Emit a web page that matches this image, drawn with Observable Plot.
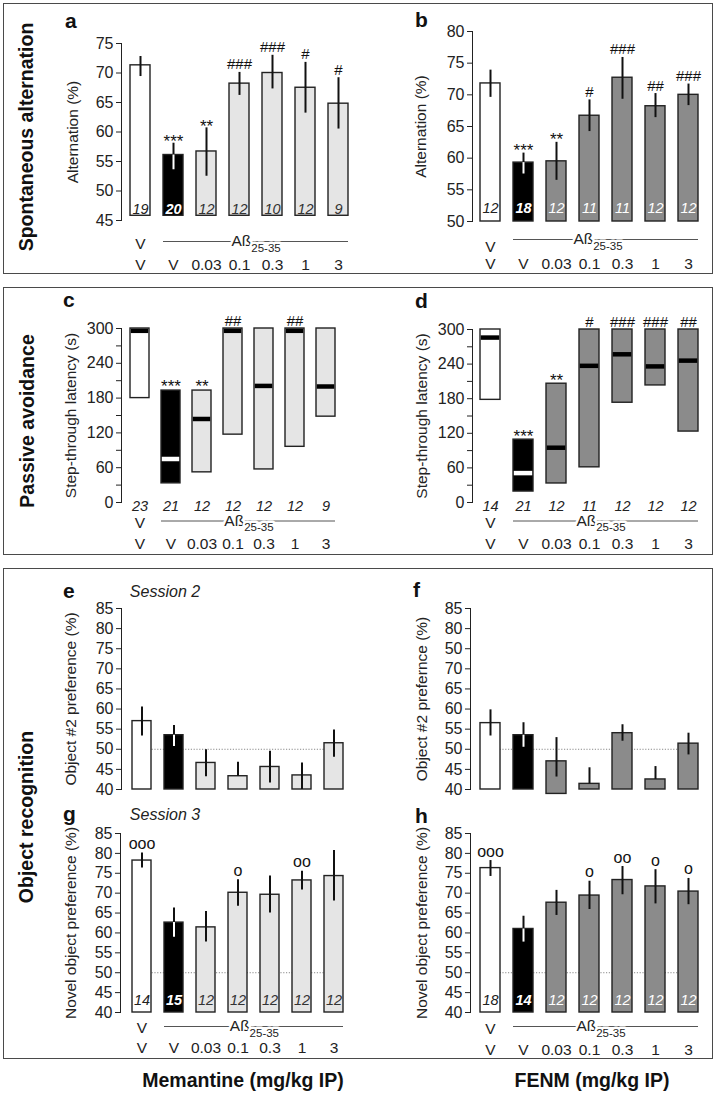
<!DOCTYPE html>
<html>
<head>
<meta charset="utf-8">
<script src="https://cdn.jsdelivr.net/npm/d3@7"></script>
<script src="https://cdn.jsdelivr.net/npm/@observablehq/plot@0.6"></script>
<style>
  html, body { margin: 0; padding: 0; background: #ffffff; }
  #fig { position: relative; width: 716px; height: 1095px; background: #ffffff; overflow: hidden; }
  .frame { position: absolute; border: 1.5px solid #4a4a4a; box-sizing: border-box; }
  .panel { position: absolute; }
  #overlay { position: absolute; left: 0; top: 0; pointer-events: none; }
</style>
</head>
<body>
<div id="fig"></div>
<script>
const FONT = '"Liberation Sans Narrow","Arial Narrow","Liberation Sans",Arial,sans-serif';

// ---------- categories & labels ----------
const groups = ["V+V", "Aß+V", "Aß+0.03", "Aß+0.1", "Aß+0.3", "Aß+1", "Aß+3"];
const kinds = ["vehicle", "abeta", "drug", "drug", "drug", "drug", "drug"];
const row1Labels = ["V", "", "", "", "", "", ""];
const doseLabels = ["V", "V", "0.03", "0.1", "0.3", "1", "3"];
const abetaLabel = "Aß25-35";

// ---------- tick values / labels ----------
const aTicks = [45, 50, 55, 60, 65, 70, 75];
const bTicks = [50, 55, 60, 65, 70, 75, 80];
const cdTicks = [0, 30, 60, 90, 120, 150, 180, 210, 240, 270, 300];
const cdTickLabels = ["0", "", "60", "", "120", "", "180", "", "240", "", "300"];
const orTicks = [40, 45, 50, 55, 60, 65, 70, 75, 80, 85];
const eTickLabels = ["40", "45", "50", "55", "60", "65", "70", "75", "80", "85"];
const fTickLabels = ["40", "45", "50", "55", "60", "65", "70", "50", "80", "85"];

// ---------- a: spontaneous alternation, memantine ----------
const aMean = [71.3, 56.1, 56.7, 68.2, 70.0, 67.5, 64.8];
const aLo   = [69.4, 53.6, 52.5, 66.2, 67.3, 63.2, 60.5];
const aHi   = [72.8, 58.1, 60.7, 70.1, 73.0, 71.8, 69.2];
const aN    = [19, 20, 12, 12, 10, 12, 9];
const aSig  = ["", "***", "**", "###", "###", "#", "#"];

// ---------- b: spontaneous alternation, FENM ----------
const bMean = [71.8, 59.3, 59.5, 66.7, 72.7, 68.2, 70.0];
const bLo   = [69.6, 57.5, 56.5, 64.2, 69.3, 66.4, 68.3];
const bHi   = [73.9, 60.8, 62.5, 69.2, 75.9, 70.2, 71.7];
const bN    = [12, 18, 12, 11, 11, 12, 12];
const bSig  = ["", "***", "**", "#", "###", "##", "###"];

// ---------- c: passive avoidance, memantine (box low/high, median) ----------
const cLow    = [180, 33, 52, 117, 57, 96, 148];
const cHigh   = [300, 193, 193, 300, 300, 300, 300];
const cMedian = [296, 75, 144, 296, 201, 296, 200];
const cN      = [23, 21, 12, 12, 12, 12, 9];
const cSig    = ["", "***", "**", "##", "", "##", ""];

// ---------- d: passive avoidance, FENM ----------
const dLow    = [178, 19, 33, 61, 173, 203, 123];
const dHigh   = [300, 109, 206, 300, 300, 300, 300];
const dMedian = [286, 51, 95, 237, 257, 236, 246];
const dN      = [14, 21, 12, 11, 12, 12, 12];
const dSig    = ["", "***", "**", "#", "###", "###", "##"];

// ---------- e: object recognition session 2, memantine ----------
const eMean = [57.0, 53.5, 46.6, 43.3, 45.6, 43.5, 51.5];
const eLo   = [53.3, 50.7, 43.2, 43.3, 41.6, 40.0, 48.0];
const eHi   = [60.5, 55.9, 49.9, 46.8, 49.5, 46.6, 54.8];

// ---------- f: object recognition session 2, FENM ----------
const fMean   = [56.5, 53.5, 47.0, 41.4, 54.0, 42.5, 51.4];
const fLo     = [53.3, 50.5, 43.1, 41.4, 52.0, 42.5, 48.6];
const fHi     = [59.8, 56.6, 52.9, 45.4, 56.1, 45.7, 54.0];
const fBottom = [40, 40, 38.9, 40, 40, 40, 40];

// ---------- g: object recognition session 3, memantine ----------
const gMean = [78.2, 62.6, 61.4, 70.1, 69.6, 73.2, 74.3];
const gLo   = [76.3, 58.9, 57.7, 66.7, 65.0, 70.8, 68.0];
const gHi   = [80.1, 66.3, 65.4, 73.4, 74.3, 75.5, 80.7];
const gN    = [14, 15, 12, 12, 12, 12, 12];
const gSig  = ["ooo", "", "", "o", "", "oo", ""];

// ---------- h: object recognition session 3, FENM ----------
const hMean = [76.3, 61.0, 67.6, 69.4, 73.3, 71.7, 70.4];
const hLo   = [74.2, 57.7, 64.4, 65.9, 69.6, 67.3, 67.1];
const hHi   = [78.2, 64.2, 70.7, 73.0, 76.7, 75.9, 73.7];
const hN    = [18, 14, 12, 12, 12, 12, 12];
const hSig  = ["ooo", "", "", "o", "oo", "o", "o"];

const LIGHT = "#e5e5e5";
const DARK = "#8b8b8b";

const fig = document.getElementById("fig");

// frames
[[2.5, 2.5, 710, 271], [2.5, 286.5, 710, 268], [2.5, 567.5, 710, 491]].forEach(([l, t, w, h]) => {
  const f = document.createElement("div");
  f.className = "frame";
  Object.assign(f.style, {left: l + "px", top: t + "px", width: w + "px", height: h + "px"});
  fig.appendChild(f);
});

function build(cfg) {
  const n = groups.length;
  const pi = 1 - cfg.bw / cfg.step;
  const po = (cfg.c0 - cfg.bw / 2 - cfg.ax) / cfg.step;
  const rangeEnd = cfg.ax + cfg.step * (n - pi + 2 * po);
  const data = groups.map((g, i) => {
    const d = {g, kind: kinds[i], row1: row1Labels[i], dose: doseLabels[i]};
    for (const [k, arr] of Object.entries(cfg.series)) d[k] = arr[i];
    if (d.base === undefined) d.base = cfg.barBase ?? cfg.domain[0];
    return d;
  });
  const fillOf = d => d.kind === "vehicle" ? "#ffffff" : d.kind === "abeta" ? "#000000" : cfg.drugFill;
  const countFill = d => d.kind === "vehicle" ? "#222" : d.kind === "abeta" ? "#ffffff" : cfg.countFill;
  const marks = [];
  if (cfg.ref50) {
    marks.push(Plot.ruleY([50], {x1: () => groups[0], x2: () => groups[n - 1], stroke: "#8a8a8a", strokeWidth: 1, strokeDasharray: "1.2,1.6"}));
  }
  let sigY;
  if (cfg.type === "bar") {
    marks.push(Plot.barY(data, {x: "g", y1: "base", y2: "mean", fill: fillOf, stroke: "#222", strokeWidth: 1.4}));
    marks.push(Plot.ruleX(data, {x: "g", y1: "mean", y2: "hi", stroke: "#111", strokeWidth: 2}));
    marks.push(Plot.ruleX(data, {x: "g", y1: "lo", y2: "mean", stroke: d => d.kind === "abeta" ? "#ffffff" : "#111", strokeWidth: 2}));
    sigY = "hi";
  } else {
    marks.push(Plot.barY(data, {x: "g", y1: "low", y2: "high", fill: fillOf, stroke: "#222", strokeWidth: 1.4}));
    marks.push(Plot.tickY(data, {x: "g", y: "median", stroke: d => d.kind === "abeta" ? "#ffffff" : "#000", strokeWidth: 4.5, insetLeft: 0.8, insetRight: 0.8}));
    sigY = "high";
  }
  if (cfg.series.n) {
    marks.push(Plot.text(data, {filter: d => d.kind !== "abeta", x: "g", text: d => String(d.n), frameAnchor: "bottom", dy: cfg.nDy, lineAnchor: "middle", fill: cfg.nBelow ? "#222" : countFill, fontStyle: "italic", fontSize: 14.5}));
    marks.push(Plot.text(data, {filter: d => d.kind === "abeta", x: "g", text: d => String(d.n), frameAnchor: "bottom", dy: cfg.nDy, lineAnchor: "middle", fill: cfg.nBelow ? "#222" : countFill, fontStyle: "italic", fontWeight: cfg.nBelow ? "normal" : "bold", fontSize: 14.5}));
  }
  if (cfg.series.sig) {
    marks.push(Plot.text(data, {filter: d => d.sig.includes("*"), x: "g", y: sigY, text: "sig", lineAnchor: "bottom", dy: cfg.astDy ?? 3, fontSize: 17, fill: "#111"}));
    marks.push(Plot.text(data, {filter: d => d.sig.includes("#"), x: "g", y: sigY, text: "sig", lineAnchor: "bottom", dy: -3, fontSize: 15, fill: "#111"}));
    marks.push(Plot.text(data, {filter: d => d.sig.includes("o"), x: "g", y: sigY, text: "sig", lineAnchor: "bottom", dy: -4, fontSize: 16, fill: "#111"}));
  }
  if (cfg.xLabels) {
    marks.push(Plot.text(data, {x: "g", text: "row1", frameAnchor: "bottom", dy: cfg.row1Dy, lineAnchor: "middle", fontSize: 15.5, fill: "#222"}));
    marks.push(Plot.ruleY([cfg.domain[0]], {x1: () => groups[1], x2: () => groups[n - 1], dy: cfg.lineDy, stroke: "#555", strokeWidth: 1}));
    marks.push(Plot.text([abetaLabel], {x: () => groups[3], text: d => d, frameAnchor: "bottom", dy: cfg.lineDy, dx: cfg.step / 2 + (cfg.abDx || 0), lineAnchor: "middle", fontSize: 15.5, fill: "#222", stroke: "#ffffff", strokeWidth: 5}));
    marks.push(Plot.text(data, {x: "g", text: "dose", frameAnchor: "bottom", dy: cfg.row2Dy, lineAnchor: "middle", fontSize: 15.5, fill: "#222"}));
  }
  const tickLabels = cfg.tickLabels || cfg.ticks.map(String);
  const svg = Plot.plot({
    width: cfg.W,
    height: cfg.H,
    marginLeft: cfg.ax - cfg.L,
    marginRight: cfg.L + cfg.W - rangeEnd,
    marginTop: cfg.yTop - cfg.T,
    marginBottom: cfg.T + cfg.H - cfg.yBot,
    style: {background: "transparent", fontFamily: FONT, fontSize: "16px", color: "#222", overflow: "visible"},
    x: {type: "band", domain: groups, paddingInner: pi, paddingOuter: po, align: 0.5, axis: null},
    y: {
      domain: cfg.domain,
      ticks: cfg.ticks,
      tickFormat: d => tickLabels[cfg.ticks.indexOf(d)],
      tickSize: 5,
      tickPadding: 3,
      line: true,
      label: cfg.label,
      labelAnchor: "center",
      labelArrow: "none",
      labelOffset: cfg.ax - cfg.labelX + 8
    },
    color: {type: "identity"},
    marks
  });
  d3.select(svg).selectAll('g[aria-label="y-axis label"] text').attr("font-size", 15.5);
  d3.select(svg).selectAll("text").each(function () {
    if (this.textContent === abetaLabel) {
      const t = d3.select(this);
      t.text(null);
      t.append("tspan").text("Aß");
      t.append("tspan").attr("dy", "0.45em").attr("font-size", "11.5px").text("25-35");
    }
  });
  svg.classList.add("panel");
  svg.style.position = "absolute";
  svg.style.left = cfg.L + "px";
  svg.style.top = cfg.T + "px";
  fig.appendChild(svg);
}

// a
build({type: "bar", L: 5, T: 5, W: 350, H: 266, ax: 121, yTop: 43, yBot: 220, domain: [45, 75], ticks: aTicks,
  label: "Alternation (%)", labelX: 74, c0: 139.5, step: 33.2, bw: 20, barBase: 45.8, drugFill: LIGHT, countFill: "#333",
  series: {mean: aMean, lo: aLo, hi: aHi, n: aN, sig: aSig}, nDy: -11, xLabels: true, row1Dy: 24, lineDy: 21, row2Dy: 45, astDy: 4});
// b
build({type: "bar", L: 358, T: 5, W: 352, H: 266, ax: 472, yTop: 31, yBot: 221, domain: [50, 80], ticks: bTicks,
  label: "Alternation (%)", labelX: 422, c0: 489.5, step: 33, bw: 20, drugFill: DARK, countFill: "#ffffff",
  series: {mean: bMean, lo: bLo, hi: bHi, n: bN, sig: bSig}, nDy: -13, xLabels: true, row1Dy: 26, lineDy: 18, row2Dy: 43, abDx: -8, astDy: 3});
// c
build({type: "box", L: 5, T: 290, W: 350, H: 262, ax: 121, yTop: 328, yBot: 502, domain: [0, 300], ticks: cdTicks, tickLabels: cdTickLabels,
  label: "Step-through latency (s)", labelX: 72, c0: 136.5, step: 31.9, bw: 19.5, drugFill: LIGHT, countFill: "#333",
  series: {low: cLow, high: cHigh, median: cMedian, n: cN, sig: cSig}, nBelow: true, nDy: 4, xLabels: true, row1Dy: 21, lineDy: 18.5, row2Dy: 42, astDy: 1});
// d
build({type: "box", L: 358, T: 290, W: 352, H: 262, ax: 472, yTop: 329, yBot: 502, domain: [0, 300], ticks: cdTicks, tickLabels: cdTickLabels,
  label: "Step-through latency (s)", labelX: 423, c0: 489.5, step: 33, bw: 20, drugFill: DARK, countFill: "#ffffff",
  series: {low: dLow, high: dHigh, median: dMedian, n: dN, sig: dSig}, nBelow: true, nDy: 4, xLabels: true, row1Dy: 21, lineDy: 18.5, row2Dy: 42, abDx: -5, astDy: 2});
// e
build({type: "bar", L: 5, T: 571, W: 350, H: 229, ax: 121, yTop: 608, yBot: 789, domain: [40, 85], ticks: orTicks, tickLabels: eTickLabels,
  label: "Object #2 preference (%)", labelX: 72, c0: 139.5, step: 32.7, bw: 19.5, drugFill: LIGHT, countFill: "#333", ref50: true,
  series: {mean: eMean, lo: eLo, hi: eHi}});
// f
build({type: "bar", L: 358, T: 571, W: 352, H: 229, ax: 470, yTop: 608, yBot: 789, domain: [40, 85], ticks: orTicks, tickLabels: fTickLabels,
  label: "Object #2 prefernce (%)", labelX: 423, c0: 490, step: 33, bw: 19.5, drugFill: DARK, countFill: "#ffffff", ref50: true,
  series: {mean: fMean, lo: fLo, hi: fHi, base: fBottom}});
// g
build({type: "bar", L: 5, T: 800, W: 350, H: 256, ax: 120, yTop: 833, yBot: 1012, domain: [40, 85], ticks: orTicks, tickLabels: eTickLabels,
  label: "Novel object preference (%)", labelX: 72, c0: 139, step: 32.8, bw: 19.5, drugFill: LIGHT, countFill: "#333", ref50: true,
  series: {mean: gMean, lo: gLo, hi: gHi, n: gN, sig: gSig}, nDy: -12, xLabels: true, row1Dy: 16, lineDy: 14, row2Dy: 36});
// h
build({type: "bar", L: 358, T: 800, W: 352, H: 256, ax: 470, yTop: 833, yBot: 1012, domain: [40, 85], ticks: orTicks, tickLabels: eTickLabels,
  label: "Novel object preference (%)", labelX: 423, c0: 490, step: 33, bw: 19.5, drugFill: DARK, countFill: "#ffffff", ref50: true,
  series: {mean: hMean, lo: hLo, hi: hHi, n: hN, sig: hSig}, nDy: -12, xLabels: true, row1Dy: 17, lineDy: 14, row2Dy: 38, abDx: -5});

// ---------- annotations (row titles, panel letters, sessions, drug names) ----------
const panelLetters = [["a", 65, 28], ["b", 415, 27], ["c", 63, 307], ["d", 415, 308], ["e", 63, 598], ["f", 413, 597], ["g", 63, 821], ["h", 415, 823]];
const rowTitles = [["Spontaneous alternation", 32.5, 137], ["Passive avoidance", 34, 421], ["Object recognition", 32.5, 817]];
const sessionLabels = [["Session 2", 165, 597], ["Session 3", 165, 820]];
const drugLabels = [["Memantine (mg/kg IP)", 243, 1087], ["FENM (mg/kg IP)", 592, 1087]];

const ov = d3.select(fig).append("svg").attr("id", "overlay").attr("width", 716).attr("height", 1095)
  .style("font-family", FONT);
ov.selectAll("text.letter").data(panelLetters).join("text").attr("class", "letter")
  .attr("x", d => d[1]).attr("y", d => d[2]).attr("font-size", 21).attr("font-weight", "bold").attr("fill", "#111").text(d => d[0]);
ov.selectAll("text.row").data(rowTitles).join("text").attr("class", "row")
  .attr("transform", d => `translate(${d[1]},${d[2]}) rotate(-90)`).attr("text-anchor", "middle")
  .attr("font-size", 19.5).attr("font-weight", "bold").attr("fill", "#111").text(d => d[0]);
ov.selectAll("text.session").data(sessionLabels).join("text").attr("class", "session")
  .attr("x", d => d[1]).attr("y", d => d[2]).attr("text-anchor", "middle")
  .attr("font-size", 16).attr("font-style", "italic").attr("fill", "#222").text(d => d[0]);
ov.selectAll("text.drug").data(drugLabels).join("text").attr("class", "drug")
  .attr("x", d => d[1]).attr("y", d => d[2]).attr("text-anchor", "middle")
  .attr("font-size", 19.5).attr("font-weight", "bold").attr("fill", "#111").text(d => d[0]);
</script>
</body>
</html>
